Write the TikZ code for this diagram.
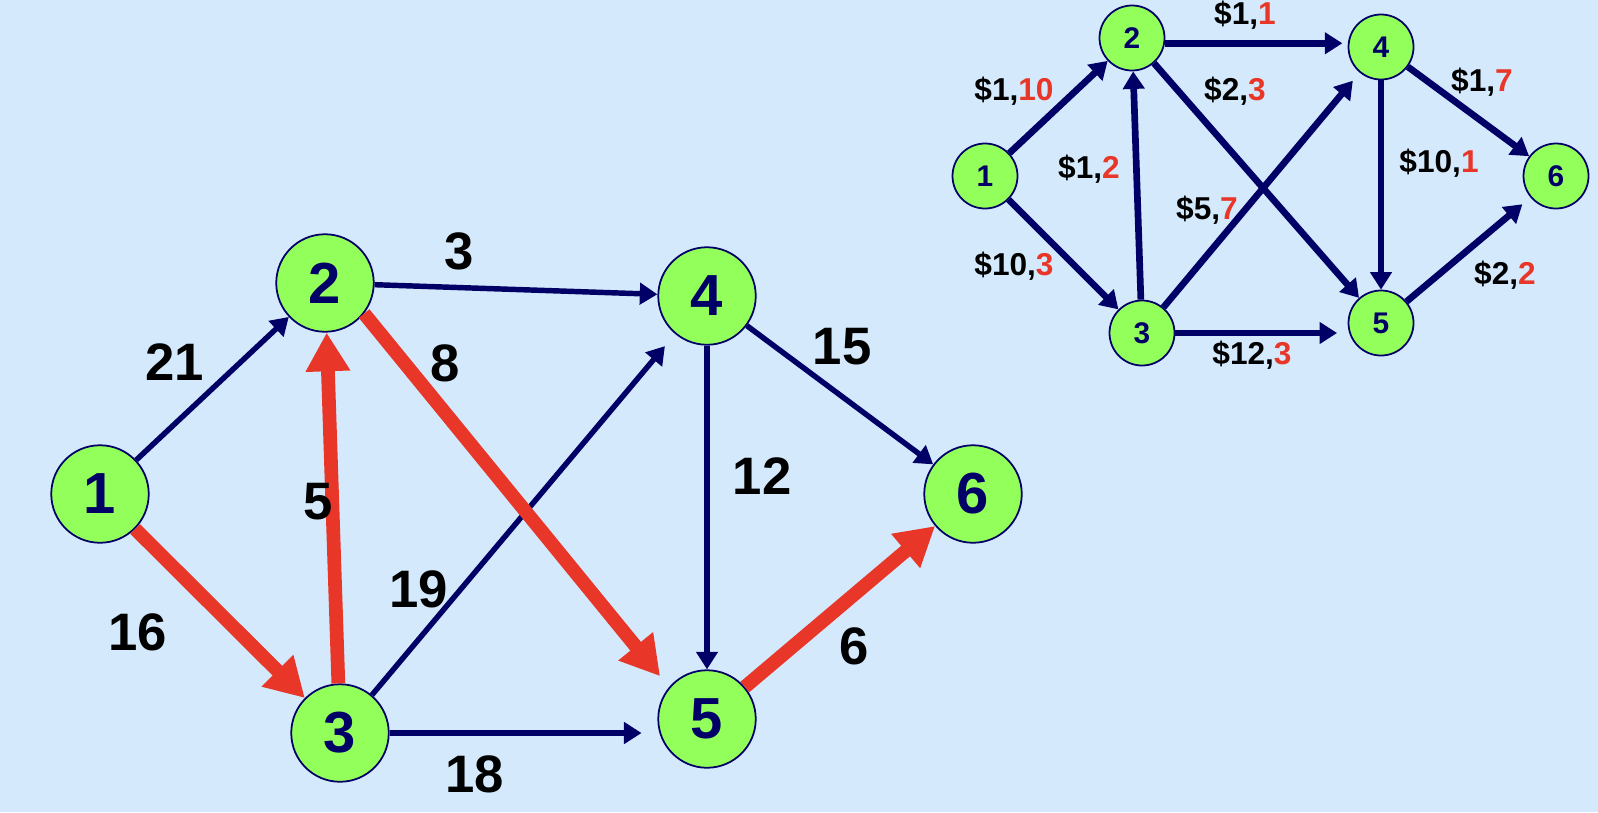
\documentclass[tikz,border=0pt]{standalone}
\usepackage{fontspec}
\setmainfont{Liberation Sans}
\usetikzlibrary{arrows.meta}
\definecolor{skyback}{RGB}{212,234,252}
\definecolor{nodegreen}{RGB}{146,255,90}
\definecolor{arcnavy}{RGB}{0,0,102}
\definecolor{arcred}{RGB}{232,54,40}
\tikzset{
  bigvertex/.style={circle,draw=arcnavy,line width=1pt,fill=nodegreen,minimum size=55.5pt,inner sep=0pt,text=arcnavy,font=\fontsize{33}{33}\selectfont\bfseries},
  smallvertex/.style={circle,draw=arcnavy,line width=1pt,fill=nodegreen,minimum size=37pt,inner sep=0pt,text=arcnavy,font=\fontsize{17}{17}\selectfont\bfseries},
  navyarc/.style={draw=arcnavy,line width=3.1pt,-{Triangle[length=10pt,width=12pt]}},
  smallarc/.style={draw=arcnavy,line width=3.8pt,-{Triangle[length=10pt,width=12pt]}},
  redarc/.style={draw=arcred,line width=7.8pt,-{Triangle[length=22pt,width=24pt]}},
  biglabel/.style={font=\fontsize{30}{30}\selectfont\bfseries},
  smalllabel/.style={font=\fontsize{18}{18}\selectfont\bfseries},
}

\begin{document}
\begin{tikzpicture}[x=0.02cm,y=-0.02cm]
\path[use as bounding box,fill=skyback] (0,0) rectangle (1598,812);

% big network
\node[bigvertex] (b1) at (100,494) {1};
\node[bigvertex] (b2) at (325,283) {2};
\node[bigvertex] (b3) at (340,733) {3};
\node[bigvertex] (b4) at (707,296) {4};
\node[bigvertex] (b5) at (707,719) {5};
\node[bigvertex] (b6) at (973,494) {6};

\draw[navyarc] (b1) -- (b2);
\draw[navyarc] (b2) -- (b4);
\draw[navyarc,shorten >=9pt] (b3) -- (b4);
\draw[navyarc,shorten >=9pt] (b3.east) -- (b3.east -| b5.west);
\draw[navyarc] (b4) -- (b5);
\draw[navyarc] (b4) -- (b6);
\draw[redarc] (b1) -- (b3);
\draw[redarc] (b3) -- (b2);
\draw[redarc,shorten >=8pt] (b2.-38) -- (b5.140);
\draw[redarc] (b5) -- (b6);

\node[biglabel] (w12) at (175,362) {21};
\node[biglabel] (w13) at (138,632) {16};
\node[biglabel] (w32) at (318,502) {5};
\node[biglabel] (w24) at (459,251) {3};
\node[biglabel] (w25) at (445,363) {8};
\node[biglabel] (w34) at (419,589) {19};
\node[biglabel] (w35) at (475,774) {18};
\node[biglabel] (w45) at (762,476) {12};
\node[biglabel] (w46) at (842,347) {15};
\node[biglabel] (w56) at (854,646) {6};

% small network
\node[smallvertex] (s1) at (985,176) {1};
\node[smallvertex] (s2) at (1132,38) {2};
\node[smallvertex] (s3) at (1142,333) {3};
\node[smallvertex] (s4) at (1381,47) {4};
\node[smallvertex] (s5) at (1381,323) {5};
\node[smallvertex] (s6) at (1556,176) {6};

\draw[smallarc] (s1) -- (s2);
\draw[smallarc] (s1) -- (s3);
\draw[smallarc] (s3) -- (s2);
\draw[smallarc,shorten >=3pt] ([yshift=-3pt]s2.east) -- ([yshift=-3pt]s2.east -| s4.west);
\draw[smallarc] (s2) -- (s5);
\draw[smallarc,shorten >=6pt] (s3) -- (s4);
\draw[smallarc,shorten >=6pt] (s3.east) -- (s3.east -| s5.west);
\draw[smallarc] (s4) -- (s5);
\draw[smallarc] (s4) -- (s6);
\draw[smallarc,shorten >=6pt] (s5) -- (s6);

\node[smalllabel] (c12) at (1014,91) {\$1,\textcolor{arcred}{10}};
\node[smalllabel] (c24) at (1245,15) {\$1,\textcolor{arcred}{1}};
\node[smalllabel] (c25) at (1235,91) {\$2,\textcolor{arcred}{3}};
\node[smalllabel] (c46) at (1482,82) {\$1,\textcolor{arcred}{7}};
\node[smalllabel] (c32) at (1089,169) {\$1,\textcolor{arcred}{2}};
\node[smalllabel] (c45) at (1439,163) {\$10,\textcolor{arcred}{1}};
\node[smalllabel] (c34) at (1207,210) {\$5,\textcolor{arcred}{7}};
\node[smalllabel] (c13) at (1014,266) {\$10,\textcolor{arcred}{3}};
\node[smalllabel] (c56) at (1505,275) {\$2,\textcolor{arcred}{2}};
\node[smalllabel] (c35) at (1252,355) {\$12,\textcolor{arcred}{3}};

\end{tikzpicture}
\end{document}
